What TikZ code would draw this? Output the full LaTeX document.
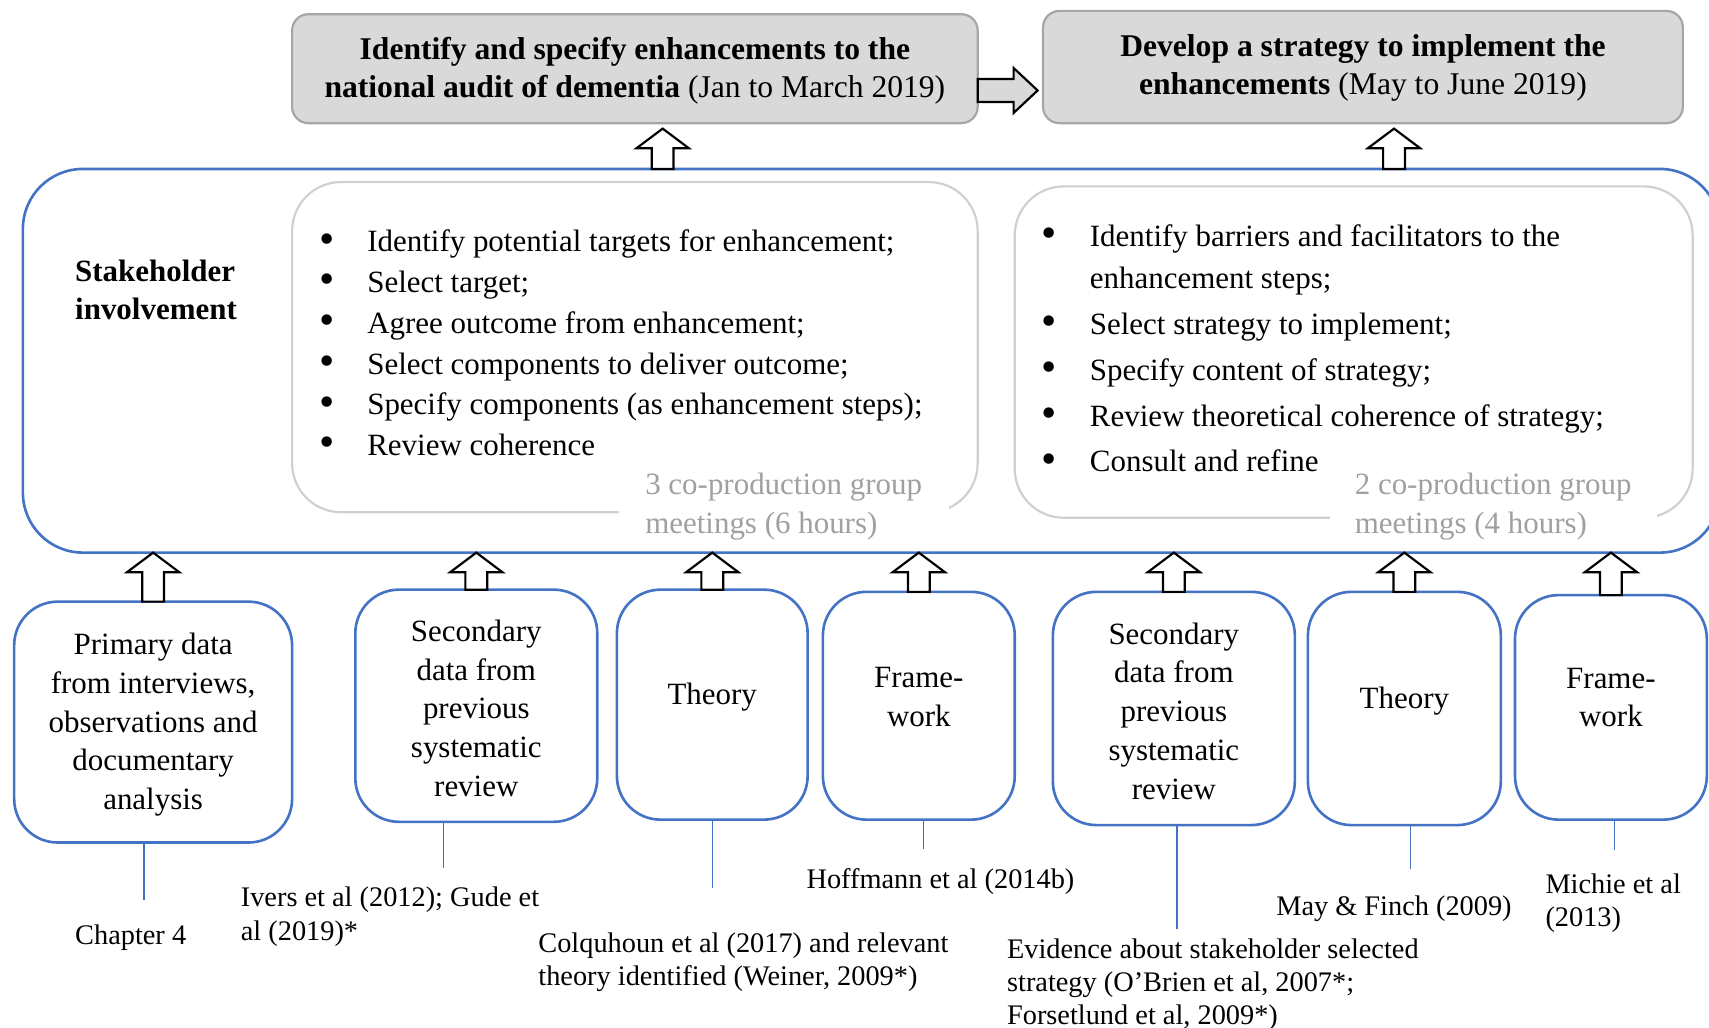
\documentclass[tikz,border=0pt]{standalone}
\usepackage{fontspec}
\setmainfont{Liberation Serif}
\usetikzlibrary{calc}

\definecolor{boxblue}{HTML}{4472C4}
\definecolor{headfill}{HTML}{D9D9D9}
\definecolor{headline}{HTML}{A6A6A6}
\definecolor{innerline}{HTML}{D0D0D0}
\definecolor{notegray}{HTML}{A0A0A0}

% bullet with a fixed indent
\newcommand\bul{\makebox[22pt][l]{\raisebox{-0.6pt}{\fontsize{20}{0}\selectfont\textbullet}}}
\newcommand\bulsp{\makebox[22pt][l]{}}

% hollow block arrows: #1 = base point, #2 = tip point
\newcommand\blockup[2]{%
  \path[blockarrow] let \p1=(#1), \p2=(#2) in
    (\x1-5pt,\y1) -- (\x1-5pt,\y2-9pt) -- (\x1-12pt,\y2-9pt) -- (\x1,\y2)
    -- (\x1+12pt,\y2-9pt) -- (\x1+5pt,\y2-9pt) -- (\x1+5pt,\y1) -- cycle;}
\newcommand\blockright[3][]{%
  \path[blockarrow,#1] let \p1=(#2), \p2=(#3) in
    (\x1,\y1+5.25pt) -- (\x2-11pt,\y1+5.25pt) -- (\x2-11pt,\y1+10.3pt) -- (\x2,\y1)
    -- (\x2-11pt,\y1-10.3pt) -- (\x2-11pt,\y1-5.25pt) -- (\x1,\y1-5.25pt) -- cycle;}

\begin{document}
\begin{tikzpicture}[x=0.5pt,y=-0.5pt,
  every node/.style={inner sep=0pt, outer sep=0pt},
  headbox/.style={draw=headline, fill=headfill, line width=1pt, rounded corners=7.5pt,
    align=center, font=\fontsize{14.5}{17.5}\selectfont},
  bigbox/.style={draw=boxblue, line width=1.2pt, rounded corners=27.5pt},
  innerbox/.style={draw=innerline, line width=1pt, rounded corners=22.5pt},
  srcbox/.style={draw=boxblue, line width=1.2pt, rounded corners=20pt},
  srctext/.style={align=center, font=\fontsize{14.2}{17.75}\selectfont},
  listtext/.style={anchor=north west, align=left},
  notetext/.style={fill=white, text=notegray, align=left, font=\fontsize{14.2}{18}\selectfont},
  reftext/.style={anchor=north west, align=left, font=\fontsize{13}{15.25}\selectfont},
  link/.style={draw=boxblue, line width=0.6pt},
  blockarrow/.style={draw=black, fill=white, line width=1pt, line join=miter},
]
\useasboundingbox (0,0) rectangle (1568,943);
\clip (0,0) rectangle (1568,943);

% stakeholder involvement frame and its two activity panels
\node[bigbox, minimum width=778.5pt, minimum height=176pt] (big) at (799.5,331) {};
\node[innerbox, minimum width=314.5pt, minimum height=151.5pt] (in1) at (582.5,318.5) {};
\node[innerbox, minimum width=311pt, minimum height=152pt] (in2) at (1242,323) {};

\node[listtext, font=\bfseries\fontsize{14.2}{17.5}\selectfont] (stake) at (69,233.5)
  {\strut Stakeholder\\involvement};

\node[listtext, font=\fontsize{14.2}{18.7}\selectfont] (list1) at (293,204.8)
  {\strut\bul Identify potential targets for enhancement;\\
   \bul Select target;\\
   \bul Agree outcome from enhancement;\\
   \bul Select components to deliver outcome;\\
   \bul Specify components (as enhancement steps);\\
   \bul Review coherence};

\node[listtext, font=\fontsize{14.2}{19.5}\selectfont] (list2) at (956,198.7)
  {\strut\bul Identify barriers and facilitators to the\\
   \bulsp enhancement steps;\\[1.5pt]
   \bul Select strategy to implement;\\[1.5pt]
   \bul Specify content of strategy;\\[1.5pt]
   \bul Review theoretical coherence of strategy;\\[1.5pt]
   \bul Consult and refine};

\node[notetext, minimum width=151.5pt, minimum height=37.5pt] (note1) at (719,464.5)
  {\strut 3 co-production group\\meetings (6 hours)\strut};
\node[notetext, minimum width=150pt, minimum height=37.5pt] (note2) at (1370,464.5)
  {\strut 2 co-production group\\meetings (4 hours)\strut};

% the two stages
\node[headbox, minimum width=314.5pt, minimum height=50pt] (t1) at (582.5,63) {};
\node[headbox, minimum width=293.5pt, minimum height=51.5pt] (t2) at (1250.5,61.5) {};
\node[headbox, draw=none, fill=none] (t1t) at ($(t1.center)+(0,2)$)
  {\strut\textbf{Identify and specify enhancements to the}\\
   \textbf{national audit of dementia} (Jan to March 2019)\strut};
\node[headbox, draw=none, fill=none] (t2t) at ($(t2.center)+(0,1)$)
  {\strut\textbf{Develop a strategy to implement the}\\
   \textbf{enhancements} (May to June 2019)\strut};

% sources feeding stakeholder involvement
\node[srcbox, minimum width=127.5pt, minimum height=110.5pt] (b1) at (140.5,662.5) {};
\node[srcbox, minimum width=111pt, minimum height=106.5pt] (b2) at (437,647.5) {};
\node[srcbox, minimum width=87.5pt, minimum height=105.5pt] (b3) at (653.5,646.5) {};
\node[srcbox, minimum width=88pt, minimum height=104.5pt] (b4) at (843,647.5) {};
\node[srcbox, minimum width=111pt, minimum height=107pt] (b5) at (1077,650) {};
\node[srcbox, minimum width=88.5pt, minimum height=107pt] (b6) at (1288.5,650) {};
\node[srcbox, minimum width=88pt, minimum height=103pt] (b7) at (1478,649) {};

\node[srctext] (b1t) at ($(b1.center)+(0,2)$)
  {\strut Primary data\\from interviews,\\observations and\\documentary\\analysis\strut};
\node[srctext] (b2t) at ($(b2.center)+(0,5)$)
  {\strut Secondary\\data from\\previous\\systematic\\review\strut};
\node[srctext] (b3t) at ($(b3.center)+(0,-7)$) {\strut Theory\strut};
\node[srctext] (b4t) at ($(b4.center)+(0,-6)$) {\strut Frame-\\work\strut};
\node[srctext] (b5t) at ($(b5.center)+(0,5)$)
  {\strut Secondary\\data from\\previous\\systematic\\review\strut};
\node[srctext] (b6t) at ($(b6.center)+(0,-7)$) {\strut Theory\strut};
\node[srctext] (b7t) at ($(b7.center)+(0,-7)$) {\strut Frame-\\work\strut};

% block arrows
\coordinate (u1) at (608,0);
\coordinate (u2) at (1279,0);
\coordinate (h) at (0,83);
\blockup{u1 |- big.north}{$(u1 |- t1.south)+(0,5)$}
\blockup{u2 |- big.north}{$(u2 |- t2.south)+(0,5)$}
\blockright[fill=headfill]{t1.east |- h}{$(t2.west |- h)+(-5,0)$}
\foreach \b in {b1,b2,b3,b4,b5,b6,b7}{
  \blockup{\b.north}{\b.north |- big.south}
}

% references
\coordinate (e1) at (132,826);
\coordinate (e2) at (407,796);
\coordinate (e3) at (654,815);
\coordinate (e4) at (847,779);
\coordinate (e5) at (1080,852);
\coordinate (e6) at (1294,797);
\coordinate (e7) at (1481,780);
\draw[link] (e1 |- b1.south) -- (e1);
\draw[link] (e2 |- b2.south) -- (e2);
\draw[link] (e3 |- b3.south) -- (e3);
\draw[link] (e4 |- b4.south) -- (e4);
\draw[link] (e5 |- b5.south) -- (e5);
\draw[link] (e6 |- b6.south) -- (e6);
\draw[link] (e7 |- b7.south) -- (e7);

\node[reftext] (r1) at (69,845.6) {\strut Chapter 4};
\node[reftext] (r2) at (221,810.6) {\strut Ivers et al (2012); Gude et\\al (2019)*};
\node[reftext] (r3) at (494,852.6)
  {\strut Colquhoun et al (2017) and relevant\\theory identified (Weiner, 2009*)};
\node[reftext] (r4) at (740,793.6) {\strut Hoffmann et al (2014b)};
\node[reftext] (r5) at (924,857.6)
  {\strut Evidence about stakeholder selected\\strategy (O’Brien et al, 2007*;\\Forsetlund et al, 2009*)};
\node[reftext] (r6) at (1171,818.6) {\strut May \& Finch (2009)};
\node[reftext] (r7) at (1418,798.6) {\strut Michie et al\\(2013)};
\end{tikzpicture}
\end{document}
